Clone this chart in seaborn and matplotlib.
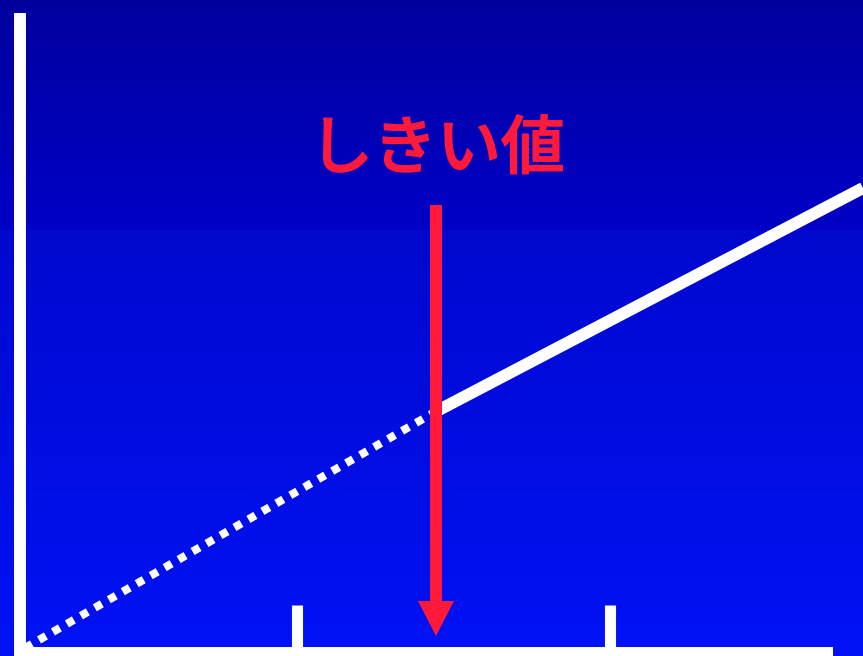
import numpy as np
import pandas as pd
import matplotlib
matplotlib.use("Agg")
import matplotlib.pyplot as plt
import matplotlib.patheffects as pe
import seaborn as sns

# データ (原点からのピクセル相当の単位)
below_x = [5, 415]        # しきい値以下 (点線)
below_y = [2, 238]
above_x = [415, 843]      # しきい値以上 (実線)
above_y = [238, 462]
tick_x = [276.5, 589.5]   # 目盛り位置
threshold_x = 416         # しきい値
label = "しきい値"

sns.set_theme(style="white")
plt.rcParams['font.family'] = ['Noto Sans CJK JP', 'DejaVu Sans']

fig = plt.figure(figsize=(8.63, 6.56), dpi=100)
ax = fig.add_axes([0, 0, 1, 1])
ax.set_xlim(-20, 843)
ax.set_ylim(-6, 650)
ax.axis('off')

# 背景のグラデーション
top = np.linspace(0, 1, 230)
grad = np.concatenate([0.62 + 0.16 * top, 0.81 + 0.15 * np.linspace(0, 1, 426)])
rgb = np.zeros((656, 1, 3))
rgb[:, 0, 1] = np.concatenate([np.zeros(230), np.linspace(0.03, 0.07, 426)])
rgb[:, 0, 2] = grad
ax.imshow(rgb, extent=[-20, 843, -6, 650], aspect='auto', zorder=0)

white = '#ffffff'
red = '#ff1a3c'

# 軸
sns.lineplot(x=[-0.5, -0.5], y=[-10, 637], ax=ax, color=white, lw=8.6,
             estimator=None, sort=False, solid_capstyle='butt', zorder=3)
sns.lineplot(x=[0, 813], y=[-2.5, -2.5], ax=ax, color=white, lw=8.6,
             estimator=None, sort=False, solid_capstyle='butt', zorder=3)
for tx in tick_x:
    sns.lineplot(x=[tx, tx], y=[0, 45], ax=ax, color=white, lw=8.0,
                 estimator=None, sort=False, solid_capstyle='butt', zorder=3)

# 線
sns.lineplot(x=below_x, y=below_y, ax=ax, color=white, lw=5.8,
             linestyle=(0, (1, 1)), dash_capstyle='butt', zorder=2)
sns.lineplot(x=above_x, y=above_y, ax=ax, color=white, lw=8.6,
             solid_capstyle='butt', zorder=2)

# 矢印
ax.arrow(threshold_x, 445, 0, -431, width=12, head_width=36, head_length=35,
         length_includes_head=True, color=red, lw=0, zorder=4)

ax.text(threshold_x + 1, 500, label, color=red, fontsize=46, fontweight='medium',
        ha='center', va='center', zorder=5,
        path_effects=[pe.withStroke(linewidth=1.0, foreground=red)])

fig.savefig('out.png', dpi=100)
